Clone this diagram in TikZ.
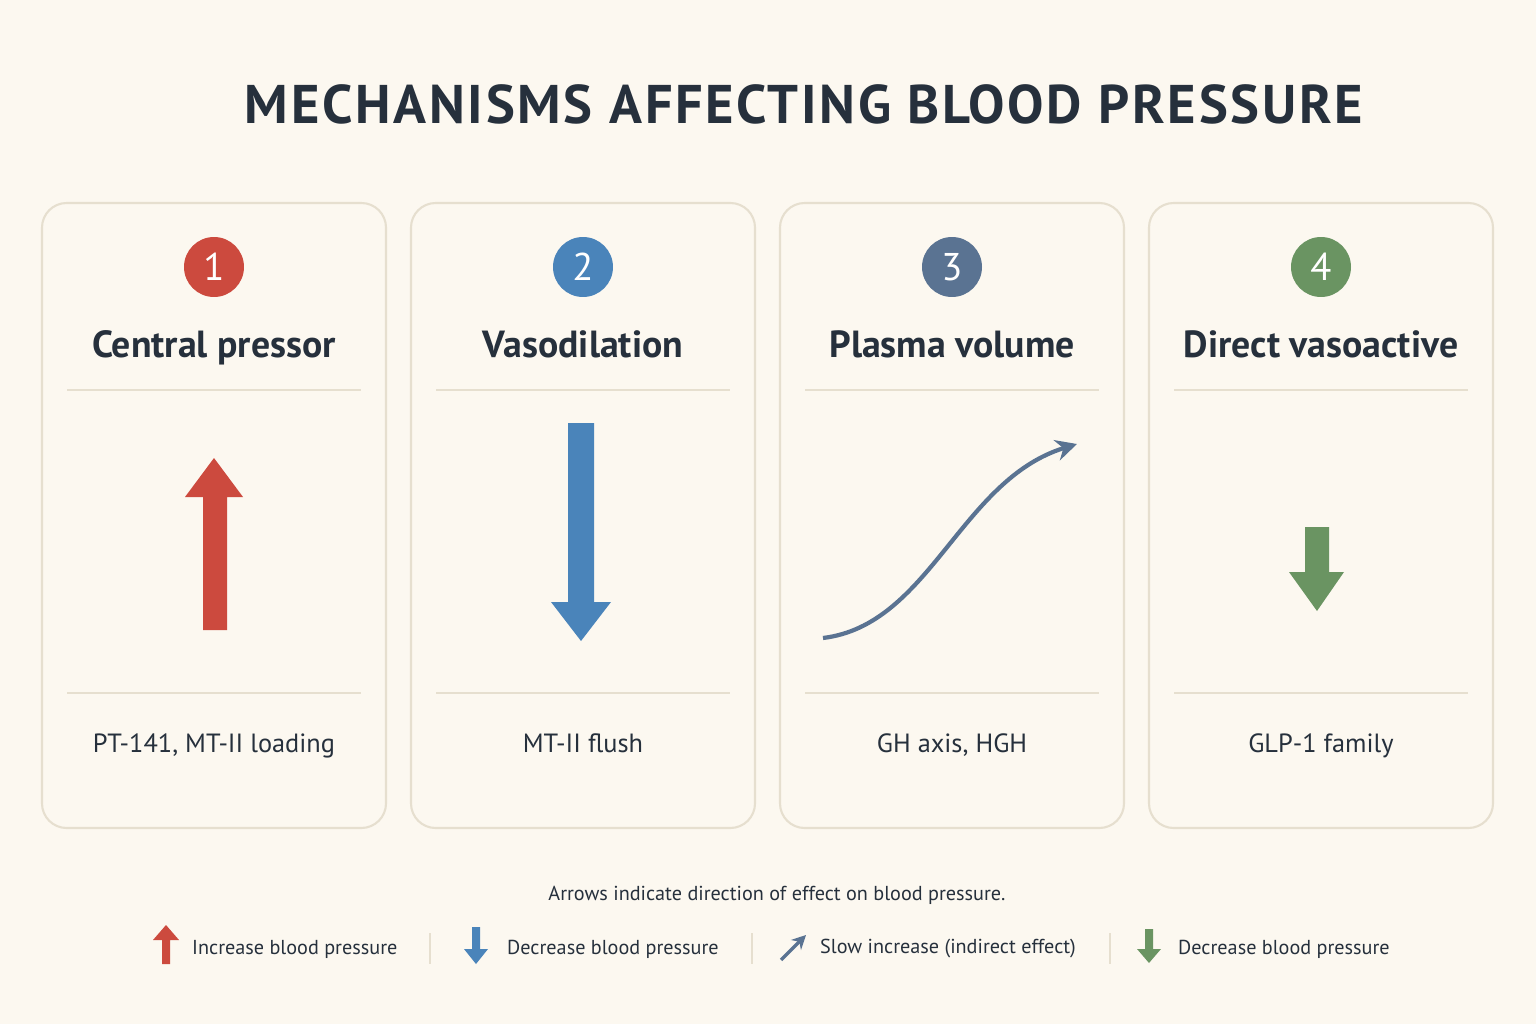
\documentclass[tikz,border=0pt]{standalone}
\usepackage{fontspec}
\setmainfont{PT Sans}
\usetikzlibrary{arrows.meta}
\definecolor{bgcol}{HTML}{FCF8F0}
\definecolor{cardline}{HTML}{E6DFCF}
\definecolor{inkcol}{HTML}{26303C}
\definecolor{redc}{HTML}{CC4A3E}
\definecolor{bluec}{HTML}{4A84BA}
\definecolor{slatec}{HTML}{5A7392}
\definecolor{greenc}{HTML}{6A9462}
\tikzset{
  card/.style={draw=cardline, line width=1.2pt, fill=bgcol, rounded corners=14pt},
  heading/.style={text=inkcol, font=\bfseries\fontsize{21.5}{24}\selectfont, anchor=base},
  caption/.style={text=inkcol, font=\fontsize{15}{18}\selectfont, anchor=base},
  legend/.style={text=inkcol, font=\fontsize{11.5}{14}\selectfont, anchor=west},
  rule/.style={draw=cardline, line width=0.8pt}
}
\begin{document}
\begin{tikzpicture}[x=0.02cm,y=-0.02cm]
  \fill[bgcol] (0,0) rectangle (1536,1024);
  \useasboundingbox (0,0) rectangle (1536,1024);
  \node[text=inkcol, font=\bfseries\fontsize{31}{34}\selectfont] (title) at (804,104) {\addfontfeature{LetterSpace=5}MECHANISMS AFFECTING BLOOD PRESSURE};

  % cards
  \foreach \x/\n/\c/\h/\t in {42/1/redc/Central pressor/{PT-141, MT-II loading},
                              411/2/bluec/Vasodilation/MT-II flush,
                              780/3/slatec/Plasma volume/{GH axis, HGH},
                              1149/4/greenc/Direct vasoactive/GLP-1 family} {
    \draw[card] (\x,203) rectangle ++(344,625);
    \node[circle, fill=\c, minimum size=1.2cm, inner sep=0pt, text=white, font=\fontsize{22}{24}\selectfont] (badge\n) at (\x+172,267) {\n};
    \node[heading] (head\n) at (\x+172,357) {\h};
    \draw[rule] (\x+25,390) -- (\x+319,390);
    \draw[rule] (\x+25,693) -- (\x+319,693);
    \node[caption] (cap\n) at (\x+172,752) {\t};
  }

  % arrows
  \fill[redc] (203,630) -- (203,497) -- (185,497) -- (214,458) -- (243,497) -- (227,497) -- (227,630) -- cycle;
  \fill[bluec] (568,423) -- (594,423) -- (594,602) -- (611,602) -- (581,641) -- (551,602) -- (568,602) -- cycle;
  \draw[slatec, line width=2.4pt, -{Stealth[length=12pt,width=12pt]}]
    (823,638) .. controls (930,625) and (960,480) .. (1077,444);
  \fill[greenc] (1305,527) -- (1329,527) -- (1329,572) -- (1344,572) -- (1317,611) -- (1289,572) -- (1305,572) -- cycle;

  % legend
  \node[text=inkcol, font=\fontsize{11.5}{14}\selectfont] (note) at (777,895) {Arrows indicate direction of effect on blood pressure.};
  \fill[redc] (162,964) -- (162,940) -- (153,940) -- (166,925) -- (179,940) -- (170,940) -- (170,964) -- cycle;
  \node[legend] (leg1) at (186,949) {Increase blood pressure};
  \draw[cardline, line width=1pt] (430,933) -- (430,964);
  \fill[bluec] (472,927) -- (480,927) -- (480,949) -- (488,949) -- (476,964) -- (464,949) -- (472,949) -- cycle;
  \node[legend] (leg2) at (501,949) {Decrease blood pressure};
  \draw[cardline, line width=1pt] (752,933) -- (752,964);
  \draw[slatec, line width=2pt, -{Stealth[length=8pt,width=8pt]}] (781,960) -- (806,935);
  \node[legend] (leg3) at (814,949) {Slow increase (indirect effect)};
  \draw[cardline, line width=1pt] (1110,933) -- (1110,964);
  \fill[greenc] (1145,929) -- (1153,929) -- (1153,949) -- (1161,949) -- (1149,963) -- (1137,949) -- (1145,949) -- cycle;
  \node[legend] (leg4) at (1172,949) {Decrease blood pressure};
\end{tikzpicture}
\end{document}
